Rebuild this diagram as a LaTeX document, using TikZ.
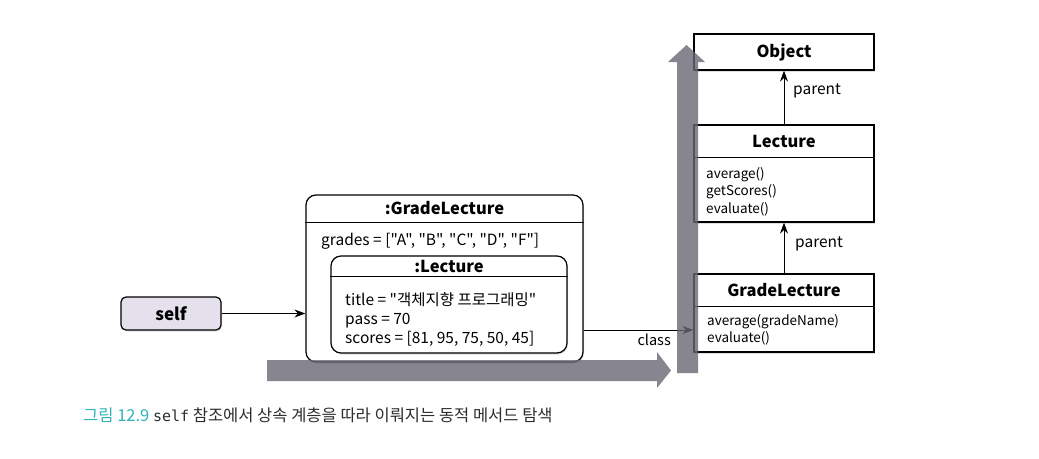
\documentclass[tikz,border=0pt]{standalone}
\usepackage{fontspec}
\setmainfont{Noto Sans CJK KR}[Ligatures=TeXOff]
\newfontfamily\monofont{DejaVu Sans Mono}
\usetikzlibrary{shadows,arrows.meta}
\definecolor{barfill}{RGB}{105,103,115}
\definecolor{selffill}{RGB}{228,225,237}
\definecolor{capteal}{RGB}{48,178,184}
\definecolor{captext}{RGB}{45,45,45}
\tikzset{
  box/.style={draw=black, line width=1.2pt, fill=white, inner sep=0pt,
    drop shadow={shadow xshift=1pt, shadow yshift=-1.5pt, opacity=0.25}},
  hline/.style={line width=0.9pt},
  conn/.style={line width=1pt, -{Stealth[length=11pt,width=8pt]}},
  title/.style={font=\fontsize{16.5}{18}\selectfont\bfseries, inner sep=0pt},
  txt/.style={font=\fontsize{15.5}{17}\selectfont, anchor=base west, inner sep=0pt},
  mtxt/.style={font=\fontsize{13.5}{16}\selectfont, anchor=base west, inner sep=0pt},
  lbl/.style={font=\fontsize{15.5}{17}\selectfont, inner sep=0pt},
  bigarrow/.style={fill=barfill, opacity=0.8, draw=none},
}
\begin{document}
\begin{tikzpicture}[x=1pt,y=-1pt]
\useasboundingbox (0,0) rectangle (1039,458);

% self
\node[box, fill=selffill, rounded corners=5pt, minimum width=100pt, minimum height=33pt,
      font=\fontsize{17}{19}\selectfont\bfseries] (self) at (171,313.5) {self};

% outer object :GradeLecture
\node[box, rounded corners=10pt, minimum width=277pt, minimum height=167pt] (outer) at (444.5,278.5) {};
\coordinate (oh) at (0,222);
\draw[hline] (outer.west |- oh) -- (outer.east |- oh);
\node[title] (otitle) at (444.5,208.5) {:GradeLecture};
\node[txt] (grades) at (321,245) {grades = ["A", "B", "C", "D", "F"]};

% inner object :Lecture
\node[box, rounded corners=10pt, minimum width=236pt, minimum height=97pt] (inner) at (449,304.5) {};
\coordinate (ih) at (0,276);
\draw[hline] (inner.west |- ih) -- (inner.east |- ih);
\node[title] (ititle) at (449,266) {:Lecture};
\node[txt] (ttl) at (345,305) {title = "객체지향 프로그래밍"};
\node[txt] (pass) at (345,324) {pass = 70};
\node[txt] (scores) at (345,343) {scores = [81, 95, 75, 50, 45]};

% class boxes
\node[box, minimum width=180pt, minimum height=36pt] (obj) at (784,52) {};
\node[title] (objt) at (784,52) {Object};

\node[box, minimum width=180pt, minimum height=97pt] (lc) at (784,173.5) {};
\coordinate (lh) at (0,157);
\draw[hline] (lc.west |- lh) -- (lc.east |- lh);
\node[title] (lct) at (784,141) {Lecture};
\node[mtxt] (m1) at (706,178) {average()};
\node[mtxt] (m2) at (706,195.5) {getScores()};
\node[mtxt] (m3) at (706,213) {evaluate()};

\node[box, minimum width=180pt, minimum height=78pt] (glc) at (784,313) {};
\coordinate (gh) at (0,306);
\draw[hline] (glc.west |- gh) -- (glc.east |- gh);
\node[title] (glct) at (784,290) {GradeLecture};
\node[mtxt] (g1) at (707,325) {average(gradeName)};
\node[mtxt] (g2) at (707,342) {evaluate()};

% connectors
\draw[conn] (self.east) -- (outer.west |- self.east);
\coordinate (cy) at (0,330);
\draw[conn] (outer.east |- cy) -- (glc.west |- cy);
\node[lbl, anchor=base east, font=\fontsize{14.5}{17}\selectfont] (classl) at (671,345) {class};
\draw[conn] (lc.north) -- (obj.south);
\node[lbl, anchor=base west] (p1) at (793,94) {parent};
\draw[conn] (glc.north) -- (lc.south);
\node[lbl, anchor=base west] (p2) at (795,247) {parent};

% big gray arrows
\fill[bigarrow] (267,360) -- (657,360) -- (657,352) -- (671,370.5) -- (657,388) -- (657,381) -- (267,381) -- cycle;
\fill[bigarrow] (677,373) -- (677,62) -- (668,62) -- (686.5,45) -- (705,62) -- (698,62) -- (698,373) -- cycle;

% caption
\node[anchor=base west, inner sep=0pt, font=\fontsize{16.5}{18}\selectfont, text=captext] (cap) at (83,421)
  {\textcolor{capteal}{그림 12.9} {\monofont\fontsize{15}{18}\selectfont self} 참조에서 상속 계층을 따라 이뤄지는 동적 메서드 탐색};
\end{tikzpicture}
\end{document}
